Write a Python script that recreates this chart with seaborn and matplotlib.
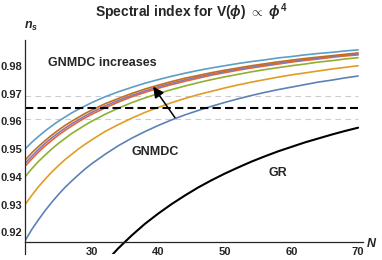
import numpy as np
import pandas as pd
import matplotlib
matplotlib.use("Agg")
import matplotlib.pyplot as plt
import seaborn as sns

# e-folds
N = [20, 21, 22, 23, 24, 25, 26, 27, 28, 29, 30, 32, 34, 36, 38, 40, 42, 44, 46, 48,
     50, 52, 54, 56, 58, 60, 62, 64, 66, 68, 70]

# spectral index curves (GNMDC coupling increasing)
ns_blue = [0.9170, 0.9210, 0.9245, 0.9278, 0.9308, 0.9336, 0.9362, 0.9385, 0.9407, 0.9428, 0.9447,
           0.9481, 0.9512, 0.9539, 0.9563, 0.9585, 0.9605, 0.9623, 0.9639, 0.9654,
           0.9668, 0.9681, 0.9693, 0.9704, 0.9714, 0.9723, 0.9732, 0.9741, 0.9748, 0.9756, 0.9763]
ns_orange = [0.9300, 0.9333, 0.9364, 0.9391, 0.9417, 0.9440, 0.9462, 0.9481, 0.9500, 0.9517, 0.9533,
             0.9563, 0.9588, 0.9611, 0.9632, 0.9650, 0.9667, 0.9682, 0.9696, 0.9708,
             0.9720, 0.9731, 0.9741, 0.9750, 0.9759, 0.9767, 0.9774, 0.9781, 0.9788, 0.9794, 0.9800]
ns_green = [0.9400, 0.9429, 0.9455, 0.9478, 0.9500, 0.9520, 0.9538, 0.9556, 0.9571, 0.9586, 0.9600,
            0.9625, 0.9647, 0.9667, 0.9684, 0.9700, 0.9714, 0.9727, 0.9739, 0.9750,
            0.9760, 0.9769, 0.9778, 0.9786, 0.9793, 0.9800, 0.9806, 0.9813, 0.9818, 0.9824, 0.9829]
ns_red = [0.9438, 0.9464, 0.9489, 0.9511, 0.9531, 0.9550, 0.9567, 0.9583, 0.9598, 0.9612, 0.9625,
          0.9648, 0.9669, 0.9688, 0.9704, 0.9719, 0.9732, 0.9744, 0.9755, 0.9766,
          0.9775, 0.9784, 0.9792, 0.9799, 0.9806, 0.9813, 0.9819, 0.9824, 0.9830, 0.9835, 0.9839]
ns_purple = [0.9448, 0.9474, 0.9498, 0.9520, 0.9540, 0.9558, 0.9575, 0.9591, 0.9605, 0.9619, 0.9632,
             0.9655, 0.9675, 0.9693, 0.9709, 0.9724, 0.9737, 0.9749, 0.9760, 0.9770,
             0.9779, 0.9788, 0.9795, 0.9803, 0.9809, 0.9816, 0.9822, 0.9827, 0.9833, 0.9838, 0.9842]
ns_brown = [0.9460, 0.9486, 0.9509, 0.9530, 0.9550, 0.9568, 0.9585, 0.9600, 0.9614, 0.9628, 0.9640,
            0.9663, 0.9682, 0.9700, 0.9716, 0.9730, 0.9743, 0.9755, 0.9765, 0.9775,
            0.9784, 0.9792, 0.9800, 0.9807, 0.9814, 0.9820, 0.9826, 0.9831, 0.9836, 0.9841, 0.9846]
ns_lightblue = [0.9500, 0.9524, 0.9545, 0.9565, 0.9583, 0.9600, 0.9615, 0.9630, 0.9643, 0.9655, 0.9667,
                0.9688, 0.9706, 0.9722, 0.9737, 0.9750, 0.9762, 0.9773, 0.9783, 0.9792,
                0.9800, 0.9808, 0.9815, 0.9821, 0.9828, 0.9833, 0.9839, 0.9844, 0.9848, 0.9853, 0.9857]

# GR curve
N_gr = [32, 34, 36, 38, 40, 42, 44, 46, 48, 50, 52, 54, 56, 58, 60, 62, 64, 66, 68, 70]
ns_gr = [0.9091, 0.9143, 0.9189, 0.9231, 0.9268, 0.9302, 0.9333, 0.9362, 0.9388, 0.9412,
         0.9434, 0.9455, 0.9474, 0.9492, 0.9508, 0.9524, 0.9538, 0.9552, 0.9565, 0.9577]

# Planck value and band
ns_planck = 0.9649
ns_err = 0.0042

curve_names = ["c1", "c2", "c3", "c4", "c5", "c6", "c7"]
curve_colors = ["#5E81B5", "#E19C24", "#8FB032", "#EB6235", "#8778B3", "#C56E1A", "#5D9EC7"]
curve_values = [ns_blue, ns_orange, ns_green, ns_red, ns_purple, ns_brown, ns_lightblue]

df = pd.concat([pd.DataFrame({"N": N, "ns": v, "curve": name})
                for name, v in zip(curve_names, curve_values)], ignore_index=True)
df_gr = pd.DataFrame({"N": N_gr, "ns": ns_gr})

sns.set_style("white")
plt.rcParams["font.family"] = ["Liberation Sans", "DejaVu Sans"]
# bold italic math for the axis labels and title symbols
plt.rcParams["mathtext.fontset"] = "custom"
plt.rcParams["mathtext.it"] = "Liberation Sans:bold:italic"
plt.rcParams["mathtext.rm"] = "Liberation Sans:bold"
plt.rcParams["mathtext.bf"] = "Liberation Sans:bold"

fig = plt.figure(figsize=(3.82, 2.60), dpi=100)
ax = fig.add_axes([0.0654, 0.0246, 0.886, 0.821])

# planck band
ax.plot([20, 70], [ns_planck + ns_err] * 2, color="#cccccc", lw=0.8, ls=(0, (5, 4)))
ax.plot([20, 70], [ns_planck - ns_err] * 2, color="#cccccc", lw=0.8, ls=(0, (5, 4)))

sns.lineplot(data=df, x="N", y="ns", hue="curve", palette=curve_colors,
             hue_order=curve_names, legend=False, lw=1.2, ax=ax)
sns.lineplot(data=df_gr, x="N", y="ns", color="black", lw=1.5, ax=ax)

ax.plot([20, 70], [ns_planck] * 2, color="black", lw=1.5, ls=(0, (4, 2)))

ax.set_xlim(20, 70.8)
ax.set_ylim(0.9124, 0.9892)

ax.spines["top"].set_visible(False)
ax.spines["right"].set_visible(False)
ax.spines["bottom"].set_position(("data", 0.9166))
ax.spines["left"].set_linewidth(0.9)
ax.spines["bottom"].set_linewidth(0.9)

ax.set_xticks([30, 40, 50, 60, 70])
ax.set_xticks([n for n in range(22, 71, 2) if n % 10 != 0], minor=True)
ax.set_yticks([0.92, 0.93, 0.94, 0.95, 0.96, 0.97, 0.98])
ax.set_yticks([v for v in np.arange(0.914, 0.989, 0.002) if round(v * 1000) % 10 != 0], minor=True)
ax.set_yticklabels(["0.92", "0.93", "0.94", "0.95", "0.96", "0.97", "0.98"])
ax.tick_params(which="major", direction="in", length=3.5, width=0.7, labelsize=8, pad=2)
ax.tick_params(which="minor", direction="in", length=2, width=0.6)
ax.tick_params(axis="x", which="major", pad=4)
for lab in ax.get_xticklabels() + ax.get_yticklabels():
    lab.set_fontweight("bold")
ax.set_xlabel("")
ax.set_ylabel("")

ax.text(-0.002, 1.055, r"$n_s$", transform=ax.transAxes, fontsize=9)
ax.text(71.2, 0.9162, r"$N$", fontsize=9, va="center", clip_on=False)

ax.text(23.5, 0.9809, "GNMDC increases", fontsize=9, fontweight="bold", va="center")
ax.text(39.6, 0.9488, "GNMDC", fontsize=9, fontweight="bold", va="center", ha="center")
ax.text(57.9, 0.9415, "GR", fontsize=9, fontweight="bold", va="center", ha="center")

ax.annotate("", xy=(39.0, 0.9733), xytext=(42.75, 0.9605),
            arrowprops=dict(arrowstyle="-|>", color="black", lw=1.1, mutation_scale=16))

fig.suptitle(r"Spectral index for V($\phi$) $\propto$ $\phi^4$", x=0.5, y=0.995,
             fontsize=10, fontweight="bold")

fig.savefig("out.png", dpi=100)
